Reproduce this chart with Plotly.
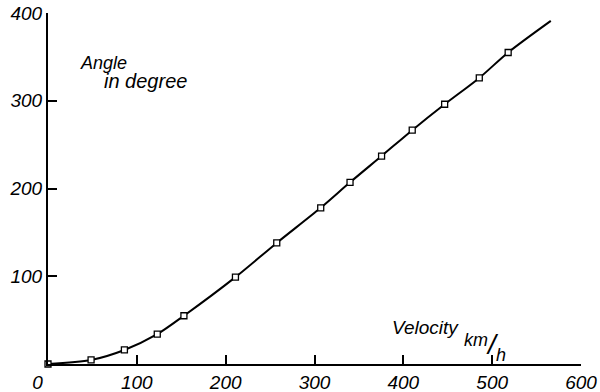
import plotly.graph_objects as go

# Measured points (velocity km/h, angle in degree)
velocity = [0, 48.5, 86, 123, 153, 211, 257.5, 307, 340, 375.5, 410, 446.5, 485.5, 518]
angle = [0, 4.6, 16, 34, 55, 99, 138, 178, 207, 237, 266.5, 296, 326, 355]
# End of the drawn curve (beyond the last marker)
curve_end_velocity = [566]
curve_end_angle = [391]

x_ticks = [0, 100, 200, 300, 400, 500, 600]
x_tick_labels = ["0&nbsp;&nbsp;&nbsp;&nbsp;", "100", "200", "300", "400", "500", "600"]
y_ticks = [100, 200, 300, 400]

FONT = "Liberation Sans, Arial, sans-serif"

fig = go.Figure()
fig.add_trace(go.Scatter(
    x=velocity + curve_end_velocity,
    y=angle + curve_end_angle,
    mode="lines",
    line=dict(color="black", width=2, shape="spline", smoothing=0.8),
    hoverinfo="skip",
    cliponaxis=False,
))
fig.add_trace(go.Scatter(
    x=velocity, y=angle, mode="markers",
    marker=dict(symbol="square", size=6, color="white",
                line=dict(color="black", width=1.3)),
    cliponaxis=False,
))

axis_common = dict(
    showgrid=False, zeroline=False, showline=True, linecolor="black",
    linewidth=2, ticks="inside", ticklen=9, tickwidth=2, tickcolor="black",
    automargin=False, ticklabeloverflow="allow",
    tickfont=dict(family=FONT, size=19, color="black", style="italic"),
)
fig.update_xaxes(range=[0, 600], tickvals=x_ticks,
                 ticktext=x_tick_labels, **axis_common)
fig.update_yaxes(range=[0, 400], tickvals=y_ticks,
                 ticktext=[str(v) for v in y_ticks], **axis_common)

def label(text, x, y, size=18):
    fig.add_annotation(text=text, x=x, y=y, xref="x", yref="y",
                       xanchor="center", yanchor="middle", showarrow=False,
                       font=dict(family=FONT, size=size, color="black", style="italic"))

label("Angle", 63, 343, 18)
label("in degree", 109.5, 322.5, 20)
label("Velocity", 425, 42, 19)
label("km", 482, 27, 18)
label("/", 500, 21.7, 28)
label("h", 510.5, 10, 18)

fig.update_layout(
    width=600, height=392, showlegend=False,
    margin=dict(l=48, r=19, t=13, b=28),
    plot_bgcolor="white", paper_bgcolor="white",
)

# remove the browser's default body margin so the figure fills the window
fig.write_html("out.html",
               config={"displayModeBar": False},
               post_script="document.body.style.margin='0';document.body.style.overflow='hidden';")
